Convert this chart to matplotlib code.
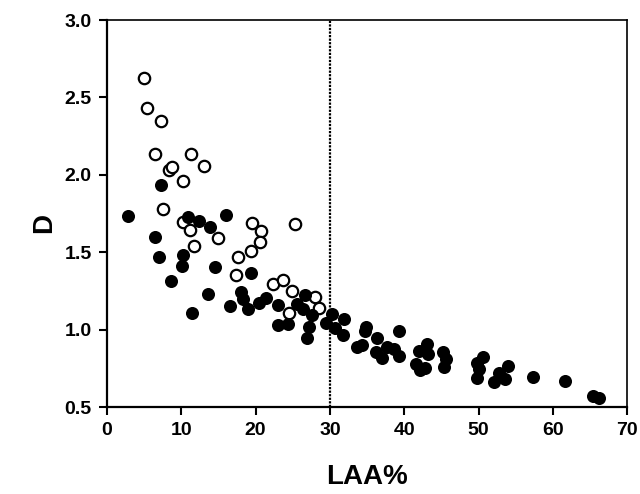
import matplotlib
matplotlib.use("Agg")
import matplotlib.pyplot as plt

# Open circles
open_x = [4.98, 5.43, 7.31, 6.5, 11.35, 8.34, 8.75, 13.06, 10.27, 7.54, 10.27, 11.13,
          19.56, 20.7, 25.26, 14.94, 11.71, 20.64, 17.63, 19.38, 17.32, 22.38, 23.65,
          24.85, 28.0, 28.57, 24.54]
open_y = [2.627, 2.433, 2.345, 2.136, 2.136, 2.031, 2.052, 2.057, 1.96, 1.779, 1.693, 1.643,
          1.689, 1.635, 1.684, 1.59, 1.538, 1.566, 1.471, 1.506, 1.353, 1.293, 1.32,
          1.247, 1.213, 1.138, 1.109]

# Filled circles
filled_x = [7.27, 2.87, 10.9, 12.43, 13.9, 15.97, 6.46, 7.04, 10.27, 10.05, 14.49, 8.57,
            19.38, 13.59, 18.08, 18.35, 16.55, 18.98, 11.48, 20.41, 21.36, 23.01, 22.97,
            24.4, 25.53, 26.34, 26.65, 27.63, 27.19, 26.88, 30.32, 29.48, 30.69, 31.94,
            31.72, 34.9, 34.7, 33.69, 34.28, 36.3, 39.26, 36.2, 37.0, 37.73, 38.67, 39.26,
            41.95, 43.07, 43.16, 41.59, 42.17, 42.76, 45.27, 45.58, 45.36, 49.84, 50.65,
            50.07, 49.84, 52.13, 52.8, 53.61, 53.97, 57.38, 61.6, 65.45, 66.26]
filled_y = [1.934, 1.732, 1.729, 1.703, 1.665, 1.742, 1.6, 1.467, 1.484, 1.411, 1.404, 1.316,
            1.364, 1.23, 1.245, 1.196, 1.152, 1.131, 1.109, 1.17, 1.206, 1.157, 1.03,
            1.038, 1.163, 1.131, 1.224, 1.092, 1.019, 0.946, 1.1, 1.04, 1.012, 1.067,
            0.965, 1.02, 0.99, 0.886, 0.9, 0.944, 0.993, 0.857, 0.814, 0.89, 0.873, 0.829,
            0.862, 0.907, 0.842, 0.776, 0.739, 0.75, 0.853, 0.81, 0.757, 0.782, 0.825,
            0.745, 0.685, 0.664, 0.718, 0.679, 0.765, 0.696, 0.666, 0.569, 0.56]

x_ticks = [0, 10, 20, 30, 40, 50, 60, 70]
y_ticks = [0.5, 1.0, 1.5, 2.0, 2.5, 3.0]
cutoff = 30

plt.rcParams['font.family'] = ['Liberation Sans', 'DejaVu Sans']
plt.rcParams['font.weight'] = 'bold'

fig = plt.figure(figsize=(6.4, 4.94), dpi=100)
ax = fig.add_axes([0.167, 0.176, 0.813, 0.7835])

ax.axvline(cutoff, color='black', linestyle=(0, (1, 0.6)), linewidth=1.6, zorder=1)
ax.plot(open_x, open_y, 'o', markersize=8.2, markerfacecolor='white',
        markeredgecolor='black', markeredgewidth=1.6, linestyle='none', zorder=2)
ax.plot(filled_x, filled_y, 'o', markersize=9.4, markerfacecolor='black',
        markeredgecolor='black', markeredgewidth=0, linestyle='none', zorder=3)

ax.set_xlim(0, 70)
ax.set_ylim(0.5, 3.0)
ax.set_xticks(x_ticks)
ax.set_yticks(y_ticks)
ax.set_xticklabels([str(t) for t in x_ticks])
ax.set_yticklabels([f"{t:.1f}" for t in y_ticks])
ax.tick_params(direction='out', length=6, width=1.5, labelsize=14, pad=5)
ax.tick_params(top=False, right=False)
for lab in ax.get_xticklabels() + ax.get_yticklabels():
    lab.set_fontweight('bold')
for side in ['left', 'bottom']:
    ax.spines[side].set_linewidth(1.6)
for side in ['top', 'right']:
    ax.spines[side].set_linewidth(1.2)

ax.set_xlabel('LAA%', fontsize=20, fontweight='bold', labelpad=18)
ax.set_ylabel('D', fontsize=20, fontweight='bold', labelpad=5)
ax.yaxis.label.set_y(0.475)

fig.savefig('out.png', dpi=100, facecolor='white')
